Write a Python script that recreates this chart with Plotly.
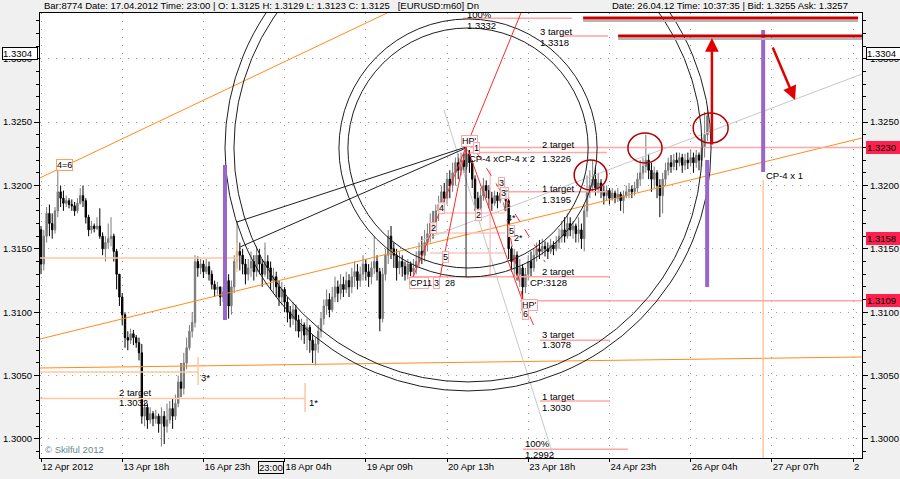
import plotly.graph_objects as go

# ---------------- data ----------------
tick_pos = [0, 29, 58, 87, 116, 145, 174, 203, 232, 261, 290]
tick_text = ["12 Apr 2012", "13 Apr 18h", "16 Apr 23h", "18 Apr 04h", "19 Apr 09h",
             "20 Apr 13h", "23 Apr 18h", "24 Apr 23h", "26 Apr 04h", "27 Apr 07h", "2"]

price_ticks = [1.3000, 1.3050, 1.3100, 1.3150, 1.3200, 1.3250, 1.3300]
price_tick_text = ["1.3000", "1.3050", "1.3100", "1.3150", "1.3200", "1.3250", "1.3300"]

first_open = 1.3165
closes = [
    1.3138, 1.3160, 1.3178, 1.3170, 1.3165, 1.3180, 1.3195, 1.3190, 1.3186, 1.3188,
    1.3185, 1.3184, 1.3180, 1.3186, 1.3192, 1.3188, 1.3175, 1.3165, 1.3168, 1.3166,
    1.3168, 1.3160, 1.3150, 1.3155, 1.3158, 1.3160, 1.3148, 1.3130, 1.3112, 1.3098,
    1.3080, 1.3078, 1.3083, 1.3080, 1.3076, 1.3068, 1.3018, 1.3025, 1.3015, 1.3020,
    1.3016, 1.3018, 1.3012, 1.3018, 1.3010, 1.3015, 1.3024, 1.3018, 1.3028, 1.3045,
    1.3040, 1.3060, 1.3072, 1.3085, 1.3092, 1.3140, 1.3135, 1.3138, 1.3132, 1.3136,
    1.3130, 1.3122, 1.3118, 1.3120, 1.3112, 1.3116, 1.3125, 1.3105, 1.3120, 1.3140,
    1.3148, 1.3145, 1.3138, 1.3130, 1.3135, 1.3140, 1.3132, 1.3145, 1.3138, 1.3130,
    1.3140, 1.3135, 1.3125, 1.3128, 1.3120, 1.3112, 1.3118, 1.3108, 1.3100, 1.3095,
    1.3102, 1.3094, 1.3085, 1.3090, 1.3082, 1.3088, 1.3078, 1.3070, 1.3075, 1.3085,
    1.3095, 1.3105, 1.3110, 1.3102, 1.3112, 1.3120, 1.3115, 1.3122, 1.3118, 1.3125,
    1.3120, 1.3128, 1.3132, 1.3125, 1.3130, 1.3138, 1.3132, 1.3128, 1.3135, 1.3140,
    1.3132, 1.3095, 1.3130, 1.3145, 1.3160, 1.3150, 1.3145, 1.3135, 1.3140, 1.3136,
    1.3130, 1.3138, 1.3132, 1.3135, 1.3140, 1.3148, 1.3145, 1.3155, 1.3162, 1.3170,
    1.3165, 1.3180, 1.3185, 1.3195, 1.3190, 1.3205, 1.3200, 1.3210, 1.3218, 1.3212,
    1.3220, 1.3215, 1.3225, 1.3218, 1.3205, 1.3190, 1.3182, 1.3192, 1.3200, 1.3196,
    1.3190, 1.3186, 1.3192, 1.3188, 1.3194, 1.3196, 1.3188, 1.3150, 1.3140, 1.3145,
    1.3130, 1.3135, 1.3120, 1.3130, 1.3140, 1.3135, 1.3145, 1.3150, 1.3148, 1.3152,
    1.3150, 1.3148, 1.3153, 1.3150, 1.3155, 1.3160, 1.3165, 1.3160, 1.3170, 1.3165,
    1.3168, 1.3162, 1.3165, 1.3158, 1.3180, 1.3195, 1.3200, 1.3205, 1.3198, 1.3202,
    1.3195, 1.3192, 1.3196, 1.3190, 1.3194, 1.3190, 1.3193, 1.3188, 1.3192, 1.3195,
    1.3197, 1.3195, 1.3198, 1.3205, 1.3210, 1.3215, 1.3220, 1.3212, 1.3205, 1.3210,
    1.3200, 1.3192, 1.3205, 1.3212, 1.3218, 1.3215, 1.3220, 1.3218, 1.3222, 1.3216,
    1.3220, 1.3218, 1.3222, 1.3218, 1.3224, 1.3220, 1.3230, 1.3240, 1.3255,
]
highs = [
    1.3168, 1.3165, 1.3183, 1.3185, 1.3178, 1.3183, 1.3212, 1.3200, 1.3196, 1.3192,
    1.3190, 1.3189, 1.3187, 1.3190, 1.3198, 1.3200, 1.3190, 1.3177, 1.3172, 1.3170,
    1.3175, 1.3182, 1.3163, 1.3160, 1.3170, 1.3175, 1.3162, 1.3150, 1.3130, 1.3115,
    1.3100, 1.3085, 1.3087, 1.3086, 1.3082, 1.3080, 1.3075, 1.3030, 1.3028, 1.3025,
    1.3022, 1.3023, 1.3020, 1.3025, 1.3022, 1.3028, 1.3030, 1.3032, 1.3035, 1.3050,
    1.3060, 1.3068, 1.3080, 1.3090, 1.3100, 1.3145, 1.3144, 1.3142, 1.3141, 1.3142,
    1.3140, 1.3133, 1.3125, 1.3124, 1.3120, 1.3120, 1.3130, 1.3130, 1.3125, 1.3145,
    1.3172, 1.3155, 1.3150, 1.3142, 1.3142, 1.3148, 1.3145, 1.3152, 1.3150, 1.3142,
    1.3155, 1.3145, 1.3140, 1.3135, 1.3132, 1.3125, 1.3124, 1.3120, 1.3112, 1.3105,
    1.3108, 1.3106, 1.3098, 1.3095, 1.3092, 1.3095, 1.3090, 1.3082, 1.3080, 1.3090,
    1.3100, 1.3110, 1.3118, 1.3115, 1.3120, 1.3128, 1.3125, 1.3130, 1.3128, 1.3132,
    1.3130, 1.3135, 1.3140, 1.3138, 1.3136, 1.3145, 1.3142, 1.3138, 1.3140, 1.3160,
    1.3145, 1.3135, 1.3135, 1.3150, 1.3165, 1.3168, 1.3155, 1.3150, 1.3148, 1.3145,
    1.3140, 1.3142, 1.3140, 1.3142, 1.3148, 1.3155, 1.3160, 1.3165, 1.3170, 1.3178,
    1.3180, 1.3185, 1.3192, 1.3200, 1.3202, 1.3210, 1.3212, 1.3218, 1.3222, 1.3225,
    1.3226, 1.3225, 1.3232, 1.3228, 1.3220, 1.3208, 1.3195, 1.3198, 1.3206, 1.3204,
    1.3200, 1.3195, 1.3196, 1.3195, 1.3200, 1.3203, 1.3198, 1.3192, 1.3152, 1.3150,
    1.3148, 1.3142, 1.3138, 1.3135, 1.3145, 1.3148, 1.3150, 1.3155, 1.3157, 1.3158,
    1.3156, 1.3155, 1.3158, 1.3156, 1.3160, 1.3166, 1.3172, 1.3175, 1.3178, 1.3175,
    1.3172, 1.3170, 1.3175, 1.3170, 1.3185, 1.3208, 1.3212, 1.3220, 1.3215, 1.3210,
    1.3205, 1.3200, 1.3200, 1.3198, 1.3198, 1.3196, 1.3198, 1.3195, 1.3196, 1.3200,
    1.3202, 1.3200, 1.3203, 1.3210, 1.3220, 1.3222, 1.3240, 1.3225, 1.3218, 1.3215,
    1.3212, 1.3205, 1.3210, 1.3218, 1.3222, 1.3224, 1.3225, 1.3226, 1.3226, 1.3225,
    1.3225, 1.3226, 1.3228, 1.3226, 1.3228, 1.3226, 1.3238, 1.3258, 1.3262,
]
lows = [
    1.3130, 1.3133, 1.3155, 1.3160, 1.3158, 1.3162, 1.3175, 1.3183, 1.3180, 1.3183,
    1.3182, 1.3180, 1.3176, 1.3178, 1.3185, 1.3183, 1.3170, 1.3160, 1.3162, 1.3163,
    1.3165, 1.3158, 1.3145, 1.3140, 1.3150, 1.3152, 1.3140, 1.3118, 1.3105, 1.3090,
    1.3072, 1.3070, 1.3075, 1.3074, 1.3072, 1.3062, 1.3012, 1.3010, 1.3008, 1.3012,
    1.3010, 1.3012, 1.3005, 1.2994, 1.2996, 1.3005, 1.3012, 1.3008, 1.3015, 1.3025,
    1.3033, 1.3035, 1.3055, 1.3070, 1.3080, 1.3088, 1.3128, 1.3130, 1.3127, 1.3130,
    1.3125, 1.3118, 1.3112, 1.3114, 1.3105, 1.3108, 1.3110, 1.3095, 1.3098, 1.3115,
    1.3135, 1.3133, 1.3130, 1.3122, 1.3125, 1.3128, 1.3125, 1.3128, 1.3130, 1.3120,
    1.3128, 1.3126, 1.3118, 1.3115, 1.3112, 1.3105, 1.3106, 1.3100, 1.3092, 1.3088,
    1.3090, 1.3085, 1.3080, 1.3078, 1.3075, 1.3070, 1.3068, 1.3060, 1.3058, 1.3068,
    1.3080, 1.3090, 1.3098, 1.3096, 1.3100, 1.3108, 1.3108, 1.3110, 1.3112, 1.3115,
    1.3112, 1.3115, 1.3120, 1.3118, 1.3120, 1.3125, 1.3125, 1.3120, 1.3122, 1.3130,
    1.3125, 1.3085, 1.3092, 1.3125, 1.3138, 1.3142, 1.3135, 1.3125, 1.3130, 1.3128,
    1.3125, 1.3126, 1.3127, 1.3128, 1.3130, 1.3135, 1.3138, 1.3140, 1.3148, 1.3155,
    1.3158, 1.3162, 1.3172, 1.3178, 1.3180, 1.3185, 1.3190, 1.3195, 1.3200, 1.3205,
    1.3208, 1.3210, 1.3212, 1.3210, 1.3198, 1.3180, 1.3175, 1.3178, 1.3188, 1.3190,
    1.3182, 1.3180, 1.3184, 1.3182, 1.3186, 1.3190, 1.3180, 1.3142, 1.3132, 1.3128,
    1.3125, 1.3120, 1.3110, 1.3115, 1.3125, 1.3128, 1.3132, 1.3140, 1.3142, 1.3145,
    1.3144, 1.3142, 1.3146, 1.3145, 1.3148, 1.3150, 1.3155, 1.3155, 1.3158, 1.3160,
    1.3158, 1.3155, 1.3155, 1.3150, 1.3148, 1.3175, 1.3190, 1.3195, 1.3192, 1.3194,
    1.3190, 1.3185, 1.3188, 1.3185, 1.3188, 1.3186, 1.3187, 1.3180, 1.3178, 1.3190,
    1.3190, 1.3190, 1.3192, 1.3195, 1.3200, 1.3205, 1.3210, 1.3205, 1.3195, 1.3198,
    1.3190, 1.3175, 1.3178, 1.3200, 1.3208, 1.3210, 1.3212, 1.3212, 1.3215, 1.3210,
    1.3212, 1.3213, 1.3215, 1.3210, 1.3214, 1.3212, 1.3215, 1.3222, 1.3235,
]
opens = [first_open] + closes[:-1]   # hourly FX bars open at the previous close
bars = list(range(len(closes)))

# labelled price levels (price boxes on the right-hand scale)
box_prices = [1.3230, 1.3158, 1.3109]
box_texts = ["1.3230", "1.3158", "1.3109"]
top_box_price = 1.3304
top_box_text = "1.3304"

# ---------------- styles ----------------
FONT = "Liberation Sans"
ORANGE = "#FF8C1A"
PEACH = "#FFC79E"
PINK = "#FFA6A6"
LPINK = "#FFC4C4"
RED = "#FF2A2A"
DARKRED = "#C80000"
PURPLE = "#9966CC"
GREY = "#C8C8C8"
BLACK = "#1E1E1E"


def seg(x0, y0, x1, y1, color, width=1.0, dash="solid"):
    return dict(type="line", xref="x", yref="y", x0=x0, y0=y0, x1=x1, y1=y1,
                line=dict(color=color, width=width, dash=dash))


def ring(x0, y0, x1, y1, color, width=1.0):
    return dict(type="circle", xref="x", yref="y", x0=x0, y0=y0, x1=x1, y1=y1,
                line=dict(color=color, width=width))


fig = go.Figure()
fig.add_trace(go.Candlestick(
    x=bars, open=opens, high=highs, low=lows, close=closes,
    increasing=dict(line=dict(color="#7A7A7A", width=1), fillcolor="#7A7A7A"),
    decreasing=dict(line=dict(color="#000000", width=1), fillcolor="#000000"),
    whiskerwidth=0, hoverinfo="skip", showlegend=False))
fig.add_trace(go.Scatter(x=[], y=[], yaxis="y2", showlegend=False, hoverinfo="skip"))

shapes = [
    # orange channel / support lines
    seg(-0.36, 1.3206, 123.6, 1.33361, ORANGE),
    seg(-0.36, 1.30789, 293.2, 1.32375, ORANGE),
    seg(-0.36, 1.30560, 293.2, 1.30647, ORANGE),
    # peach level lines
    seg(-0.36, 1.31428, 70.4, 1.31428, PEACH, 1.5),
    seg(-0.36, 1.30529, 56.1, 1.30529, PEACH, 1.5),
    seg(56.1, 1.30647, 56.1, 1.30426, PEACH, 1.5),
    seg(-0.36, 1.3032, 94.3, 1.3032, PEACH, 1.5),
    seg(94.3, 1.30442, 94.3, 1.30213, PEACH, 1.5),
    seg(70.0, 1.31546, 70.0, 1.31318, PEACH, 1.5),
    seg(257.9, 1.32044, 257.9, 1.2985, PEACH, 1.5),
    # pink target lines
    seg(153.2, 1.3230, 293.2, 1.3230, PINK, 1.5),
    seg(153.2, 1.3226, 202.1, 1.3226, PINK, 1.5),
    seg(165.7, 1.3195, 202.1, 1.3195, PINK, 1.5),
    seg(131.8, 1.3128, 203.2, 1.3128, PINK, 1.5),
    seg(171.1, 1.3109, 293.2, 1.3109, PINK, 1.5),
    seg(178.2, 1.3078, 203.2, 1.3078, PINK, 1.5),
    seg(178.2, 1.3030, 203.2, 1.3030, PINK, 1.5),
    seg(172.1, 1.2992, 209.6, 1.2992, PINK, 1.5),
    seg(150.7, 1.3332, 189.6, 1.3332, PINK, 1.5),
    seg(185.4, 1.3318, 202.5, 1.3318, PINK, 1.5),
    seg(142.5, 1.31783, 165.7, 1.31783, LPINK, 1.5),
    seg(138.9, 1.31625, 165.7, 1.31625, LPINK, 1.5),
    seg(138.9, 1.31468, 165.7, 1.31468, LPINK, 1.5),
    seg(160.4, 1.32122, 160.4, 1.31278, LPINK, 1.5),
    # grey lines
    seg(143.9, 1.32596, 183.2, 1.2985, GREY),
    seg(135.4, 1.31562, 293.2, 1.32880, GREY),
    # black fan lines to the high
    seg(70.0, 1.31712, 151.8, 1.32304, BLACK),
    seg(71.1, 1.31515, 151.8, 1.32296, BLACK),
    seg(151.8, 1.32296, 151.8, 1.31278, BLACK),
    # black rings around the high
    ring(65.7, 1.30379, 239.3, 1.34213, BLACK),
    ring(68.9, 1.30450, 236.1, 1.34142, BLACK),
    ring(106.4, 1.31278, 198.6, 1.33314, BLACK),
    ring(109.6, 1.31349, 195.4, 1.33243, BLACK),
    # red pattern lines
    seg(132.9, 1.31278, 151.8, 1.32304, RED),
    seg(142.5, 1.31278, 151.8, 1.32304, RED),
    seg(151.8, 1.32304, 171.4, 1.33361, RED),
    seg(152.5, 1.32280, 172.1, 1.31081, RED),
    seg(155.7, 1.32257, 180.0, 1.31397, RED, 1, "dash"),
    seg(163.9, 1.32004, 172.1, 1.31097, RED, 1, "dash"),
    seg(172.1, 1.31097, 177.1, 1.30836, RED, 1, "dash"),
    # purple bars
    seg(65.7, 1.32162, 65.7, 1.30939, PURPLE, 4),
    seg(237.9, 1.32201, 237.9, 1.31199, PURPLE, 4),
    seg(257.9, 1.33227, 257.9, 1.32107, PURPLE, 4),
    # thick red resistance lines with shadow
    seg(193.6, 1.33298, 291.8, 1.33298, "#B4B4B4", 2),
    seg(193.6, 1.33322, 291.8, 1.33322, DARKRED, 3),
    seg(206.1, 1.33156, 293.2, 1.33156, "#B4B4B4", 2),
    seg(206.1, 1.33180, 293.2, 1.33180, DARKRED, 3),
    # red highlight ellipses
    ring(190.4, 1.31965, 202.1, 1.32201, "#B00000", 1.5),
    ring(209.6, 1.32178, 221.8, 1.32414, "#B00000", 1.5),
    ring(232.9, 1.32335, 245.4, 1.32572, "#B00000", 1.5),
]

ann = []


def txt(text, x, y, anchor="left", size=9.5, color="black", **kw):
    d = dict(text=text, x=x, y=y, xref="x", yref="y", xanchor=anchor, yanchor="middle",
             showarrow=False, font=dict(family=FONT, size=size, color=color))
    d.update(kw)
    ann.append(d)


def boxed(text, x, y, border=PINK):
    txt(text, x, y, anchor="center", size=9, bordercolor=border, borderwidth=1,
        borderpad=0, bgcolor="rgba(255,255,255,0.85)")


# target labels
txt("2 target", 178.2, 1.32320); txt("1.3226", 178.2, 1.32217)
txt("1 target", 178.2, 1.31980); txt("1.3195", 178.2, 1.31886)
txt("2 target", 178.2, 1.31318); txt("CP:3128", 173.9, 1.31231)
txt("3 target", 178.2, 1.30828); txt("1.3078", 178.2, 1.30742)
txt("1 target", 178.2, 1.30339); txt("1.3030", 178.2, 1.30252)
txt("100%", 172.1, 1.29968); txt("1.2992", 172.1, 1.29874)
txt("100%", 151.4, 1.33353); txt("1.3332", 151.4, 1.33266)
txt("3 target", 177.5, 1.33219); txt("1.3318", 177.5, 1.33132)
txt("2 target", 27.1, 1.30363); txt("1.3032", 27.1, 1.30284)
txt("3*", 56.4, 1.30489)
txt("1*", 95.0, 1.30284)
txt("CP-4 x 1", 258.2, 1.32075)
txt("CP-4 xCP-4 x 2", 152.1, 1.32217)
txt("© Skilful 2012", 0.7, 1.29921, color="#5F8C8C")

# pattern point labels
boxed("HP'", 153.2, 1.32351)
boxed("1", 155.4, 1.32296)
boxed("2", 140.0, 1.31665)
boxed("4", 143.2, 1.31823)
boxed("5", 144.3, 1.31436)
boxed("CP1", 135.0, 1.31231)
txt("1", 138.6, 1.31231, anchor="center", size=9)
boxed("3", 141.4, 1.31231)
txt("28", 146.0, 1.31231, anchor="center", size=9)
boxed("2", 156.1, 1.31767)
boxed("3", 164.6, 1.32020)
boxed("3'", 165.4, 1.31941)
txt("4*", 167.9, 1.31744, anchor="center", size=9)
boxed("5", 167.9, 1.31641)
txt("2*", 170.7, 1.31586, anchor="center", size=9)
boxed("HP'", 174.6, 1.31057)
boxed("6", 173.2, 1.30986)
boxed("4=6", 8.4, 1.32162, border="#FFA060")

# red arrows
ann.append(dict(x=239.6, y=1.33164, ax=239.6, ay=1.32312, xref="x", yref="y",
                axref="x", ayref="y", text="", showarrow=True, arrowhead=2,
                arrowsize=1.1, arrowwidth=2.5, arrowcolor="#E00000"))
ann.append(dict(x=269.3, y=1.32675, ax=261.1, ay=1.33101, xref="x", yref="y",
                axref="x", ayref="y", text="", showarrow=True, arrowhead=2,
                arrowsize=1.1, arrowwidth=2.5, arrowcolor="#E00000"))

# price boxes on the right scale
for p, t in zip(box_prices, box_texts):
    ann.append(dict(text=t, x=1, xref="paper", xanchor="left", xshift=4, y=p, yref="y",
                    yanchor="middle", showarrow=False, bgcolor="#FF2050",
                    bordercolor="#FF2050", borderwidth=1, borderpad=0, width=34, align="left",
                    font=dict(family=FONT, size=9.5, color="black")))
for side, xa, xs in [(1, "left", 4), (0, "right", -2)]:
    ann.append(dict(text=top_box_text, x=side, xref="paper", xanchor=xa, xshift=xs,
                    y=top_box_price, yref="y", yanchor="middle", showarrow=False,
                    bgcolor="white", bordercolor="black", borderwidth=1, borderpad=0,
                    width=34, align="left", font=dict(family=FONT, size=9.5, color="black")))

# header lines
ann.append(dict(text="Bar:8774 Date: 17.04.2012 Time: 23:00 | O: 1.3125 H: 1.3129 L: 1.3123 C: 1.3125   [EURUSD:m60] Dn",
                x=0, xref="paper", xanchor="left", xshift=2, y=1, yref="paper",
                yanchor="bottom", yshift=0, showarrow=False,
                font=dict(family=FONT, size=9.5, color="black")))
ann.append(dict(text="Date: 26.04.12 Time: 10:37:35 | Bid: 1.3255 Ask: 1.3257",
                x=1, xref="paper", xanchor="right", xshift=-12, y=1, yref="paper",
                yanchor="bottom", yshift=0, showarrow=False,
                font=dict(family=FONT, size=9.5, color="black")))
# time marker on the axis
ann.append(dict(text="23:00", x=82, xref="x", xanchor="center", y=0, yref="paper",
                yanchor="top", yshift=-3, showarrow=False, bgcolor="#F0F0F0",
                bordercolor="black", borderwidth=1, borderpad=0,
                font=dict(family=FONT, size=9.5, color="black")))

yax = dict(range=[1.29850, 1.33361], tickvals=price_ticks, ticktext=price_tick_text,
           ticks="outside", ticklen=5, tickcolor="black", automargin=False,
           tickfont=dict(family=FONT, size=9.5, color="black"),
           minor=dict(dtick=0.001, tick0=1.3, ticks="outside", ticklen=3,
                      tickcolor="black", showgrid=False),
           showline=True, linecolor="black", linewidth=1, zeroline=False)

fig.update_layout(
    width=900, height=479,
    margin=dict(l=40, r=38, t=13, b=21, pad=0, autoexpand=False),
    paper_bgcolor="#F0F0F0", plot_bgcolor="white",
    showlegend=False,
    font=dict(family=FONT, size=9.5, color="black"),
    xaxis=dict(range=[-0.36, 293.2], tickvals=tick_pos, ticktext=tick_text,
               ticks="outside", ticklen=3, tickcolor="black", automargin=False,
               ticklabelposition="outside right",
               tickfont=dict(family=FONT, size=9.5, color="black"),
               showline=True, linecolor="black", linewidth=1, mirror=True,
               showgrid=True, gridcolor="#9A9A9A", griddash="1px,7px", gridwidth=1,
               zeroline=False, rangeslider=dict(visible=False)),
    yaxis=dict(side="left", showgrid=True, gridcolor="#9A9A9A", griddash="1px,7px",
               gridwidth=1, **yax),
    yaxis2=dict(side="right", overlaying="y", matches="y", showgrid=False, **yax),
    shapes=shapes,
    annotations=ann,
)

fig.write_html("out.html",
               config={"displayModeBar": False, "staticPlot": True},
               post_script="document.body.style.margin='0';document.body.style.overflow='hidden';")
